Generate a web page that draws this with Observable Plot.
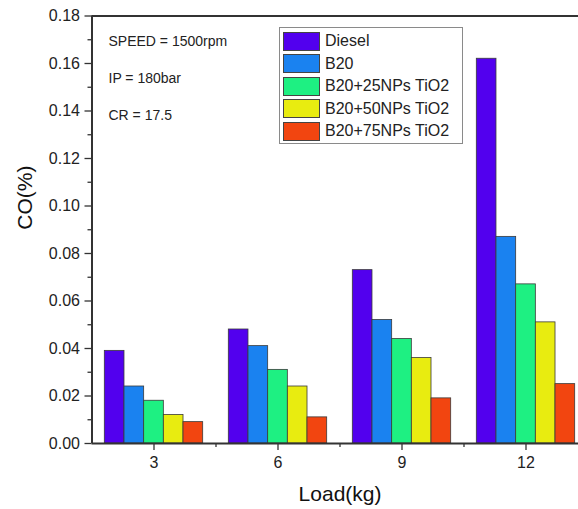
<!DOCTYPE html>
<html>
<head>
<meta charset="utf-8">
<script src="https://cdn.jsdelivr.net/npm/d3@7"></script>
<script src="https://cdn.jsdelivr.net/npm/@observablehq/plot@0.6"></script>
<style>
  html, body { margin: 0; padding: 0; background: #fff; overflow: hidden; }
  #wrap { position: relative; width: 578px; height: 509px; }
  #legend { position: absolute; left: 279px; top: 27px; width: 184px; height: 117px;
            border: 1px solid #8a8a8a; background: #fff; box-sizing: border-box;
            font-family: Arial, "Liberation Sans", sans-serif; font-size: 16px; color: #222; }
  #legend .row { position: absolute; left: 3px; height: 20px; display: flex; align-items: center; }
  #legend .sw { width: 37px; height: 19px; border: 1px solid #444; box-sizing: border-box; margin-right: 5px; }
</style>
</head>
<body>
<div id="wrap"></div>
<script>
// ---- data ----
const loads = [3, 6, 9, 12];
const seriesNames = ["Diesel", "B20", "B20+25NPs TiO2", "B20+50NPs TiO2", "B20+75NPs TiO2"];
const diesel = [0.039, 0.048, 0.073, 0.162];
const b20    = [0.024, 0.041, 0.052, 0.087];
const np25   = [0.018, 0.031, 0.044, 0.067];
const np50   = [0.012, 0.024, 0.036, 0.051];
const np75   = [0.009, 0.011, 0.019, 0.025];
const colors = ["#5200ee", "#1a82f0", "#1ef082", "#e8ec10", "#f24510"];
const yMajorTicks = [0, 0.02, 0.04, 0.06, 0.08, 0.10, 0.12, 0.14, 0.16, 0.18];
const yMinorTicks = [0.01, 0.03, 0.05, 0.07, 0.09, 0.11, 0.13, 0.15, 0.17];
const xMajorTicks = [3, 6, 9, 12];
const xMinorTicks = [4.5, 7.5, 10.5];
const notes = ["SPEED = 1500rpm", "IP = 180bar", "CR = 17.5"];

const allValues = [diesel, b20, np25, np50, np75];
const table = [];
seriesNames.forEach((s, i) => loads.forEach((l, j) => table.push({load: l, series: s, idx: i, value: allValues[i][j]})));

// group layout in x-units (band of width 3 per load)
const groupW = 2.38, barW = groupW / seriesNames.length;

const axisColor = "#333";
const noteMarks = notes.map((n, i) =>
  Plot.text([n], {frameAnchor: "top-left", dx: 16.5, dy: 26 + i * 37, text: d => d, textAnchor: "start", lineAnchor: "middle", fontSize: 14, fill: "#222"}));

const chart = Plot.plot({
  width: 578,
  height: 509,
  marginLeft: 91.5,
  marginTop: 15.5,
  marginBottom: 66,
  marginRight: 0,
  style: {fontFamily: "Arial, 'Liberation Sans', sans-serif", fontSize: "16px", color: "#222", background: "#fff"},
  x: {domain: [1.5, 13.5], range: [91.5, 587.5]},
  y: {domain: [0, 0.18], range: [443, 15.5]},
  color: {domain: seriesNames, range: colors},
  marks: [
    Plot.rectY(table, {
      x1: d => d.load - groupW / 2 + d.idx * barW,
      x2: d => d.load - groupW / 2 + (d.idx + 1) * barW,
      y: "value", fill: "series", stroke: "#3a3a3a", strokeWidth: 0.8
    }),
    Plot.axisY({ticks: yMajorTicks, tickSize: 7, tickPadding: 5, tickFormat: d3.format(".2f"), label: null, stroke: axisColor, strokeWidth: 1.3, fontSize: 16}),
    Plot.axisY({ticks: yMinorTicks, tickSize: 4, tickFormat: () => "", label: null, stroke: axisColor, strokeWidth: 1.3}),
    Plot.axisX({ticks: xMajorTicks, tickSize: 7, tickPadding: 6, label: null, stroke: axisColor, strokeWidth: 1.3, fontSize: 16}),
    Plot.axisX({ticks: xMinorTicks, tickSize: 4, tickFormat: () => "", label: null, stroke: axisColor, strokeWidth: 1.3}),
    Plot.ruleY([0], {stroke: axisColor, strokeWidth: 2}),
    Plot.ruleY([0.18], {stroke: axisColor, strokeWidth: 2}),
    Plot.ruleX([1.5], {stroke: axisColor, strokeWidth: 2}),
    ...noteMarks,
    Plot.text(["Load(kg)"], {frameAnchor: "bottom", dx: 4.8, dy: 51, text: d => d, lineAnchor: "middle", fontSize: 21, fill: "#111"}),
    Plot.text(["CO(%)"], {frameAnchor: "left", dx: -67, text: d => d, rotate: -90, lineAnchor: "middle", fontSize: 21, fill: "#111"})
  ]
});
const wrap = document.getElementById("wrap");
wrap.appendChild(chart);

// legend
const lg = document.createElement("div");
lg.id = "legend";
seriesNames.forEach((s, i) => {
  const row = document.createElement("div");
  row.className = "row";
  row.style.top = (3 + i * 22.5) + "px";
  const sw = document.createElement("div");
  sw.className = "sw";
  sw.style.background = colors[i];
  const t = document.createElement("span");
  t.textContent = s;
  row.appendChild(sw); row.appendChild(t);
  lg.appendChild(row);
});
wrap.appendChild(lg);
</script>
</body>
</html>
